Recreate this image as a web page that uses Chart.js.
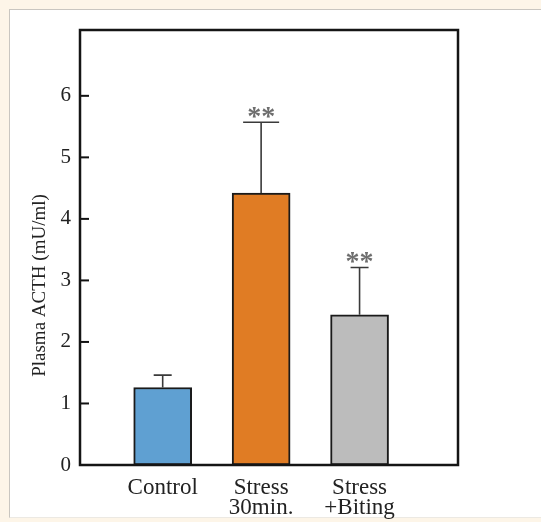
<!DOCTYPE html>
<html lang="en">
    <head>
        <meta charset="UTF-8">
        <title>Plasma ACTH</title>
        <style>
            body { margin: 0; background: #fdf5e8; }
            .painel {
                position: absolute; left: 9px; top: 9px; width: 540px; height: 507px;
                background: #fff; border-top: 1px solid #c9c6c0; border-left: 1px solid #c9c6c0;
                border-bottom: 1px solid #ece9e3;
            }
            .grafico { position: absolute; left: 0; top: 0; width: 541px; height: 522px; }
        </style>
    </head>
    <body>
        <div class="painel"></div>
        <div class="grafico">
            <canvas id="myChartCanvas" width="541" height="522"></canvas>
        </div>

<script src="https://cdn.jsdelivr.net/npm/chart.js"></script>
<script>
    // dados
    const categorias = ['Control', ['Stress', '30min.'], ['Stress', '+Biting']];
    const medias = [1.26, 4.42, 2.44];
    const erros = [0.20, 1.15, 0.77];
    const significancia = ['', '**', '**'];
    const ticksY = [0, 1, 2, 3, 4, 5, 6];

    const cores = ['#5fa0d2', '#e07c24', '#bcbcbc'];
    const tituloY = 'Plasma ACTH (mU/ml)';

    // barras de erro, asteriscos, ticks internos, moldura e titulo do eixo
    const extrasPlugin = {
        id: 'extras',
        afterDatasetsDraw(chart) {
            const ctx = chart.ctx;
            const x = chart.scales.x;
            const y = chart.scales.y;
            const area = chart.chartArea;
            const caps = [18, 36, 18];

            ctx.save();
            medias.forEach((m, i) => {
                const cx = x.getPixelForValue(i + 1);
                const y0 = y.getPixelForValue(m);
                const y1 = y.getPixelForValue(m + erros[i]);
                ctx.strokeStyle = '#3a3a3a';
                ctx.lineWidth = 1.6;
                ctx.beginPath();
                ctx.moveTo(cx, y0);
                ctx.lineTo(cx, y1);
                ctx.moveTo(cx - caps[i] / 2, y1);
                ctx.lineTo(cx + caps[i] / 2, y1);
                ctx.stroke();

                if (significancia[i]) {
                    ctx.fillStyle = '#6e6e6e';
                    ctx.font = 'bold 28px "Liberation Serif"';
                    ctx.textAlign = 'center';
                    ctx.textBaseline = 'alphabetic';
                    ctx.fillText(significancia[i], cx, y1 + 3);
                }
            });

            // ticks para dentro
            ctx.strokeStyle = '#111';
            ctx.lineWidth = 2;
            ticksY.forEach(v => {
                const py = y.getPixelForValue(v);
                ctx.beginPath();
                ctx.moveTo(area.left, py);
                ctx.lineTo(area.left + 9, py);
                ctx.stroke();
            });

            // moldura
            ctx.lineWidth = 2.5;
            ctx.strokeStyle = '#151515';
            ctx.strokeRect(area.left, area.top, area.right - area.left, area.bottom - area.top);

            // titulo do eixo y (um pouco abaixo do centro, como no original)
            ctx.translate(40, (area.top + area.bottom) / 2 + 38);
            ctx.rotate(-Math.PI / 2);
            ctx.fillStyle = '#222';
            ctx.font = '19px "Liberation Serif"';
            ctx.textAlign = 'center';
            ctx.textBaseline = 'middle';
            ctx.fillText(tituloY, 0, 0);
            ctx.restore();
        }
    };

    const ctx = document.getElementById('myChartCanvas').getContext('2d');

    new Chart(ctx, {
        type: 'bar',
        data: {
            datasets: [{
                data: medias.map((m, i) => ({ x: i + 1, y: m })),
                backgroundColor: cores,
                borderColor: '#1a1a1a',
                borderWidth: 2,
                borderSkipped: false,
                barThickness: 58
            }]
        },
        options: {
            responsive: false,
            animation: false,
            layout: { padding: { top: 30, right: 83, left: 0, bottom: 0 } },
            plugins: { legend: { display: false }, tooltip: { enabled: false } },
            scales: {
                x: {
                    type: 'linear',
                    min: 0.16,
                    max: 4.0,
                    offset: false,
                    grid: { display: false, drawTicks: false },
                    border: { display: false },
                    afterBuildTicks: (scale) => {
                        scale.ticks = categorias.map((c, i) => ({ value: i + 1 }));
                    },
                    afterFit: (scale) => { scale.height = 57; },
                    ticks: {
                        autoSkip: false,
                        maxRotation: 0,
                        padding: 13,
                        color: '#222',
                        font: { family: 'Liberation Serif', size: 23, lineHeight: 0.87 },
                        callback: (v) => categorias[v - 1]
                    }
                },
                y: {
                    min: 0,
                    max: 7.07,
                    grid: { display: false, drawTicks: false },
                    border: { display: false },
                    afterBuildTicks: (scale) => {
                        scale.ticks = ticksY.map(v => ({ value: v }));
                    },
                    afterFit: (scale) => { scale.width = 80; },
                    ticks: {
                        padding: 9,
                        color: '#222',
                        font: { family: 'Liberation Serif', size: 21 }
                    }
                }
            }
        },
        plugins: [extrasPlugin]
    });
</script>
    </body>
</html>
